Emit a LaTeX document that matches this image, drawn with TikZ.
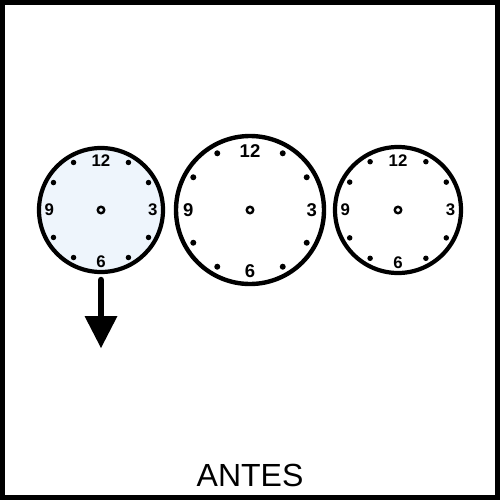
\documentclass[tikz,border=0pt]{standalone}
\usepackage{fontspec}
\setmainfont{Liberation Sans}
\usetikzlibrary{calc}
\definecolor{faceblue}{HTML}{EEF5FC}
\begin{document}
\begin{tikzpicture}[x=1pt,y=-1pt,
  face/.style={circle,draw=black,inner sep=0pt,outer sep=0pt},
  dotmark/.style={circle,fill=black,inner sep=0pt},
  hub/.style={circle,draw=black,line width=2.4pt,inner sep=0pt,minimum size=6.5pt},
  numlabel/.style={inner sep=0pt,font=\bfseries\fontsize{#1}{#1}\selectfont},
  title/.style={inner sep=0pt,font=\fontsize{32}{32}\selectfont}]
\useasboundingbox (0,0) rectangle (500,500);
\draw[line width=5pt] (2.5,2.5) rectangle (497.5,497.5);
\foreach \n/\cx/\R/\fs/\lw/\fc/\ds in {c1/101/62/16.8/4.2/faceblue/5.5, c2/250/74/18.5/4.4/white/6, c3/398/63/16.8/4.2/white/5.5}{
  \node[face,line width=\lw pt,fill=\fc,minimum size=2*\R pt] (\n) at (\cx,210) {};
  \node[hub] (\n-hub) at (\cx,210) {};
  \foreach \h in {1,2,4,5,7,8,10,11}{
    \node[dotmark,minimum size=\ds pt] (\n-d\h) at ($(\cx,210)+({sin(\h*30)*0.885*\R},{-cos(\h*30)*0.885*\R})$) {};
  }
  \node[numlabel=\fs] (\n-12) at ($(\cx,210)+(0,-0.79*\R)$) {12};
  \node[numlabel=\fs] (\n-6) at ($(\cx,210)+(0,0.83*\R)$) {6};
  \node[numlabel=\fs] (\n-3) at ($(\cx,210)+(0.835*\R,0)$) {3};
  \node[numlabel=\fs] (\n-9) at ($(\cx,210)+(-0.835*\R,0)$) {9};
}
\coordinate (arrtop) at (101,280);
\coordinate (arrbase) at (101,316);
\coordinate (arrtip) at (101,348);
\draw[line width=6.5pt,line cap=round] (arrtop) -- (arrbase);
\fill ($(arrbase)+(-16.5,0)$) -- ($(arrbase)+(16.5,0)$) -- (arrtip) -- cycle;
\node[title,anchor=base] (antes) at (250,486) {ANTES};
\end{tikzpicture}
\end{document}
